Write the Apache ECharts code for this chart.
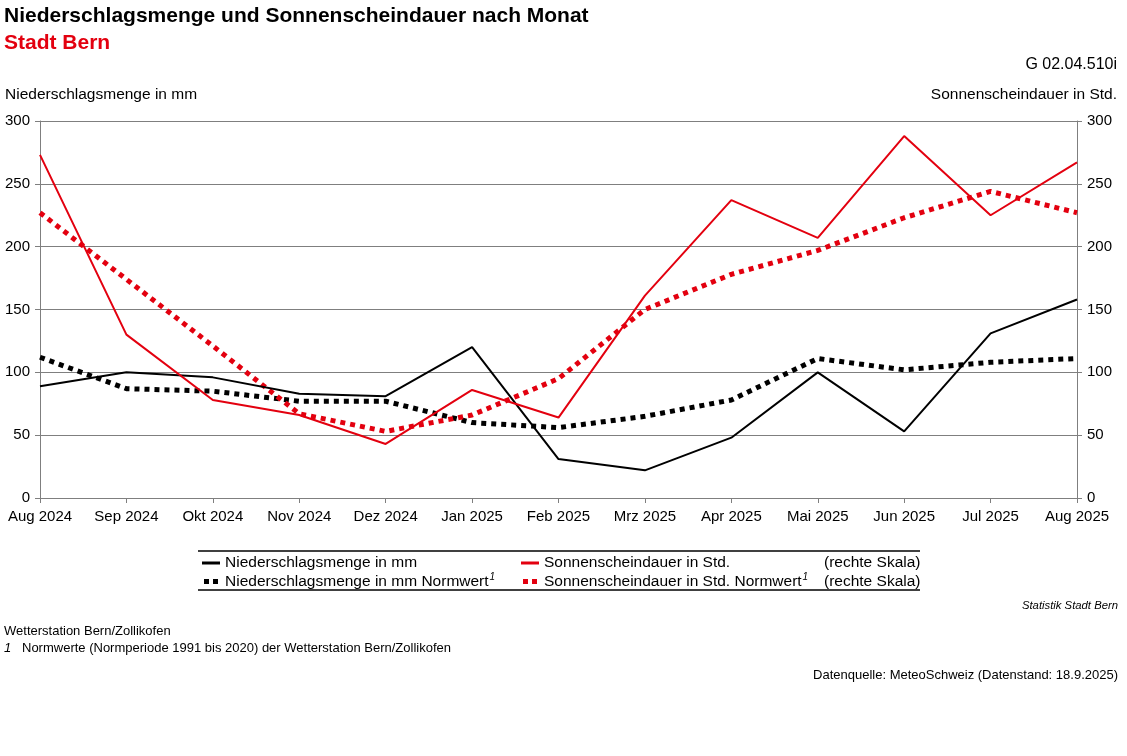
<!DOCTYPE html>
<html>
<head>
<meta charset="utf-8">
<script src="https://cdn.jsdelivr.net/npm/echarts@6/dist/echarts.min.js"></script>
<style>html,body{margin:0;padding:0;background:#fff}#c{width:1127px;height:756px}</style>
</head>
<body>
<div id="c"></div>
<script>
var months = ['Aug 2024','Sep 2024','Okt 2024','Nov 2024','Dez 2024','Jan 2025','Feb 2025','Mrz 2025','Apr 2025','Mai 2025','Jun 2025','Jul 2025','Aug 2025'];
var niederschlag = [89, 100, 96, 83, 81, 120, 31, 22, 48, 100, 53, 131, 158];
var niederschlagNorm = [112, 87, 85, 77, 77, 60, 56, 65, 78, 111, 102, 108, 111];
var sonne = [273, 130, 78, 66, 43, 86, 64, 161, 237, 207, 288, 225, 267];
var sonneNorm = [227, 174, 121, 67, 53, 66, 95, 150, 178, 197, 223, 244, 227];
var yTicks = [0, 50, 100, 150, 200, 250, 300];

var RED = '#e3000f';
var GRAY = '#7f7f7f';
var FONT = 'Liberation Sans, Arial, sans-serif';

var chart = echarts.init(document.getElementById('c'));
var solidIcon = 'path://M0,0H18V3H0Z';
var dotIcon = 'path://M0,0H5V5H0Z M9,0H14V5H9Z';
function legendFmt(name){
  if (name.indexOf('Normwert') >= 0) return '{t|' + name + '}{s|1}';
  return '{t|' + name + '}';
}
var legendText = {
  fontFamily: FONT, fontSize: 15.5, color: '#000',
  rich: {
    t: {fontFamily: FONT, fontSize: 15.5, color: '#000'},
    s: {fontFamily: FONT, fontSize: 10, fontStyle: 'italic', color: '#000', padding: [0,0,9,1]}
  }
};
chart.setOption({
  animation: false,
  textStyle: {fontFamily: FONT},
  grid: {left: 40, right: 50, top: 121, bottom: 258},
  xAxis: {
    type: 'category', data: months, boundaryGap: false,
    axisLine: {lineStyle: {color: GRAY, width: 1}},
    axisTick: {show: true, alignWithLabel: true, length: 5, lineStyle: {color: GRAY}},
    axisLabel: {interval: 0, fontSize: 15, color: '#000', margin: 11, fontFamily: FONT}
  },
  yAxis: [
    {type: 'value', min: yTicks[0], max: yTicks[yTicks.length-1], interval: 50,
     axisLine: {show: true, lineStyle: {color: GRAY}},
     axisTick: {show: true, length: 5, lineStyle: {color: GRAY}},
     axisLabel: {fontSize: 15, color: '#000', margin: 10, fontFamily: FONT},
     splitLine: {lineStyle: {color: GRAY, width: 1.2}}},
    {type: 'value', min: yTicks[0], max: yTicks[yTicks.length-1], interval: 50, position: 'right',
     axisLine: {show: true, lineStyle: {color: GRAY}},
     axisTick: {show: true, length: 5, lineStyle: {color: GRAY}},
     axisLabel: {fontSize: 15, color: '#000', margin: 10, fontFamily: FONT},
     splitLine: {show: false}}
  ],
  legend: [
    {orient: 'vertical', left: 197, top: 550, itemGap: 1, itemWidth: 18, itemHeight: 5,
     data: [{name: 'Niederschlagsmenge in mm', icon: solidIcon}, {name: 'Niederschlagsmenge in mm Normwert', icon: dotIcon}],
     formatter: legendFmt, textStyle: legendText, selectedMode: false},
    {orient: 'vertical', left: 516, top: 550, itemGap: 1, itemWidth: 18, itemHeight: 5,
     data: [{name: 'Sonnenscheindauer in Std.', icon: solidIcon}, {name: 'Sonnenscheindauer in Std. Normwert', icon: dotIcon}],
     formatter: legendFmt, textStyle: legendText, selectedMode: false}
  ],
  series: [
    {name: 'Niederschlagsmenge in mm Normwert', type: 'line', data: niederschlagNorm, yAxisIndex: 0,
     symbol: 'none', itemStyle: {color: '#000'}, lineStyle: {color: '#000', width: 5, type: [5, 5]}, z: 2},
    {name: 'Sonnenscheindauer in Std. Normwert', type: 'line', data: sonneNorm, yAxisIndex: 1,
     symbol: 'none', itemStyle: {color: RED}, lineStyle: {color: RED, width: 5, type: [5, 5]}, z: 2},
    {name: 'Niederschlagsmenge in mm', type: 'line', data: niederschlag, yAxisIndex: 0,
     symbol: 'none', itemStyle: {color: '#000'}, lineStyle: {color: '#000', width: 2}, z: 3},
    {name: 'Sonnenscheindauer in Std.', type: 'line', data: sonne, yAxisIndex: 1,
     symbol: 'none', itemStyle: {color: RED}, lineStyle: {color: RED, width: 2}, z: 3}
  ],
  graphic: [
    {type: 'text', left: 4, top: 5.5, style: {text: 'Niederschlagsmenge und Sonnenscheindauer nach Monat', font: 'bold 21px ' + FONT, fill: '#000'}},
    {type: 'text', left: 4, top: 32.5, style: {text: 'Stadt Bern', font: 'bold 21px ' + FONT, fill: RED}},
    {type: 'text', right: 10, top: 57, style: {text: 'G 02.04.510i', font: '16px ' + FONT, fill: '#000'}},
    {type: 'text', left: 5, top: 87, style: {text: 'Niederschlagsmenge in mm', font: '15.5px ' + FONT, fill: '#000'}},
    {type: 'text', right: 10, top: 87, style: {text: 'Sonnenscheindauer in Std.', font: '15.5px ' + FONT, fill: '#000'}},
    {type: 'line', shape: {x1: 198, y1: 551, x2: 920, y2: 551}, style: {stroke: '#000', lineWidth: 1.5}},
    {type: 'line', shape: {x1: 198, y1: 590, x2: 920, y2: 590}, style: {stroke: '#000', lineWidth: 1.5}},
    {type: 'text', left: 824, top: 554.5, style: {text: '(rechte Skala)', font: '15.5px ' + FONT, fill: '#000'}},
    {type: 'text', left: 824, top: 573.5, style: {text: '(rechte Skala)', font: '15.5px ' + FONT, fill: '#000'}},
    {type: 'text', right: 9, top: 600, style: {text: 'Statistik Stadt Bern', font: 'italic 11.3px ' + FONT, fill: '#000'}},
    {type: 'text', left: 4, top: 625, style: {text: 'Wetterstation Bern/Zollikofen', font: '13px ' + FONT, fill: '#000'}},
    {type: 'text', left: 4, top: 642, style: {text: '1', font: 'italic 13px ' + FONT, fill: '#000'}},
    {type: 'text', left: 22, top: 642, style: {text: 'Normwerte (Normperiode 1991 bis 2020) der Wetterstation Bern/Zollikofen', font: '13px ' + FONT, fill: '#000'}},
    {type: 'text', right: 9, top: 669, style: {text: 'Datenquelle: MeteoSchweiz (Datenstand: 18.9.2025)', font: '13px ' + FONT, fill: '#000'}}
  ]
});
</script>
</body>
</html>
